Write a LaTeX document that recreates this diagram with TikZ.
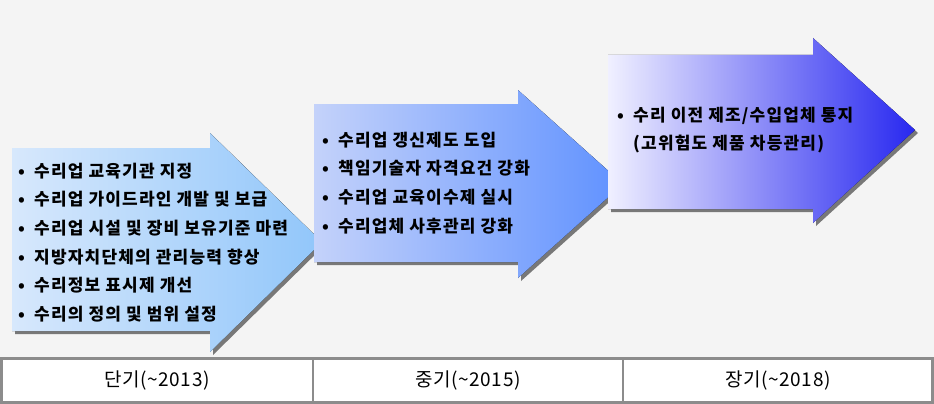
\documentclass[tikz,border=0pt]{standalone}
\usepackage{fontspec}
\newfontfamily\kr[LetterSpace=7]{Noto Sans CJK KR}
\newfontfamily\krcell[LetterSpace=3]{Noto Sans CJK KR}
\definecolor{bg}{RGB}{244,244,244}
\definecolor{tablegray}{RGB}{140,140,140}
\definecolor{shadowgray}{RGB}{120,120,120}
\definecolor{aoneL}{RGB}{215,232,252}
\definecolor{aoneR}{RGB}{145,198,250}
\definecolor{atwoL}{RGB}{196,210,250}
\definecolor{atwoR}{RGB}{95,145,255}
\definecolor{athreeL}{RGB}{240,240,255}
\definecolor{athreeR}{RGB}{40,40,240}
\tikzset{
  itemtext/.style={anchor=west, inner sep=0pt, font=\kr\bfseries\fontsize{17}{17}\selectfont, text=black},
  celltext/.style={anchor=center, inner sep=0pt, font=\krcell\fontsize{19}{19}\selectfont, text=black},
  shadowfill/.style={fill=shadowgray, shift={(3,3)}},
}
\newcommand{\bul}{\makebox[16pt][l]{•}}
\begin{document}
\begin{tikzpicture}[x=1pt,y=-1pt]
\useasboundingbox (0,0) rectangle (934,404);
\fill[white] (0,0) rectangle (934,404);
\fill[bg] (0,0) rectangle (934,357);
% arrow 1
\fill[shadowfill] (12,148) -- (210,148) -- (210,133) -- (322,242) -- (210,352) -- (210,331) -- (12,331) -- cycle;
\fill[left color=aoneL, right color=aoneR] (12,148) -- (210,148) -- (210,133) -- (322,242) -- (210,352) -- (210,331) -- (12,331) -- cycle;
% arrow 2
\fill[shadowfill] (314,104) -- (518,104) -- (518,90) -- (623,184) -- (518,278) -- (518,262) -- (314,262) -- cycle;
\fill[left color=atwoL, right color=atwoR] (314,104) -- (518,104) -- (518,90) -- (623,184) -- (518,278) -- (518,262) -- (314,262) -- cycle;
% arrow 3
\fill[shadowfill] (608,55) -- (813,55) -- (813,38) -- (915,130) -- (813,223) -- (813,209) -- (608,209) -- cycle;
\fill[left color=athreeL, right color=athreeR] (608,55) -- (813,55) -- (813,38) -- (915,130) -- (813,223) -- (813,209) -- (608,209) -- cycle;
% texts arrow 1
\node[itemtext] (a1) at (18,171) {\bul 수리업 교육기관 지정};
\node[itemtext] (a2) at (18,199.6) {\bul 수리업 가이드라인 개발 및 보급};
\node[itemtext] (a3) at (18,228.2) {\bul 수리업 시설 및 장비 보유기준 마련};
\node[itemtext] (a4) at (18,256.8) {\bul 지방자치단체의 관리능력 향상};
\node[itemtext] (a5) at (18,285.4) {\bul 수리정보 표시제  개선};
\node[itemtext] (a6) at (18,314) {\bul 수리의 정의 및 범위 설정};
% texts arrow 2
\node[itemtext] (b1) at (322,140) {\bul 수리업 갱신제도 도입};
\node[itemtext] (b2) at (322,168.5) {\bul 책임기술자 자격요건 강화};
\node[itemtext] (b3) at (322,197) {\bul 수리업 교육이수제 실시};
\node[itemtext] (b4) at (322,226) {\bul 수리업체 사후관리 강화};
% texts arrow 3
\node[itemtext] (c1) at (617,116) {\bul 수리 이전 제조/수입업체 통지};
\node[itemtext] (c2) at (633,144) {(고위험도 제품 차등관리)};
% table
\draw[tablegray, line width=2.5pt] (1.5,358.5) rectangle (932.5,402.5);
\draw[tablegray, line width=2pt] (313,358.5) -- (313,402.5);
\draw[tablegray, line width=2pt] (623,358.5) -- (623,402.5);
\node[celltext] (t1) at (157,381) {단기(\textasciitilde2013)};
\node[celltext] (t2) at (468,381) {중기(\textasciitilde2015)};
\node[celltext] (t3) at (778,381) {장기(\textasciitilde2018)};
\end{tikzpicture}
\end{document}
